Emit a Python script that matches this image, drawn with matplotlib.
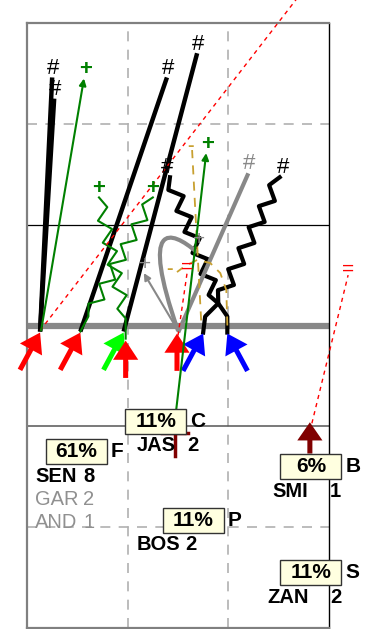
import numpy as np
import matplotlib
matplotlib.use("Agg")
import matplotlib.pyplot as plt
from matplotlib.patches import FancyArrow, Rectangle, PathPatch
from matplotlib.path import Path

plt.rcParams["font.family"] = ["Liberation Sans", "DejaVu Sans"]

# field: cells of 10 units, line of scrimmage at y = 0
grid_x = [10, 20]
grid_y_dashed = [20, -20]

# players on the line (arrow tip), lean: 1 = from lower left, -1 = from lower right, 0 = from below
player_x = [1.3, 5.3, 9.6, 9.8, 14.9, 17.5, 19.9]
player_y = [-0.7, -0.7, -0.7, -1.5, -0.8, -0.8, -0.8]
player_color = ["#ff0000", "#ff0000", "#00ff00", "#ff0000", "#ff0000", "#0000ff", "#0000ff"]
player_lean = [1, 1, 1, 0, 0, 1, -1]

# straight black routes ending in '#'
black_start_x = [1.3, 1.3, 5.3, 9.6]
black_end_x = [2.5, 2.7, 13.9, 16.9]
black_end_y = [24.6, 22.5, 24.6, 27.0]

# thin green routes with arrow heads ending in '+'
green_start = [(1.4, -0.5), (14.7, -9.4)]
green_end = [(5.66, 24.5), (17.8, 17.1)]

# wavy routes: (start, bend, end)
wavy_black = [[(19.9, -0.7), (19.9, 0.9), (19.0, 2.2), (14.2, 14.7)],
              [(17.5, -0.7), (17.7, 0.9), (19.0, 2.2), (25.1, 14.7)]]
wavy_green = [[(9.8, -1.3), (9.8, 0.7), (7.15, 12.7)],
              [(5.3, -0.6), (6.1, 0.9), (12.5, 12.7)]]

# grey routes
grey_thin = [(15.0, -0.5), (11.6, 5.2)]
grey_thick = [(15.1, -0.5), (21.9, 14.9)]
grey_loop = [(15.0, -0.5), (11.2, 10.4), (14.2, 9.6), (16.9, 7.25)]

# gold dashed coverage
gold_a = [(17.3, 0.5), (16.4, 17.4)]
gold_b = [(19.9, 0.0), (19.8, 3.5), (19.2, 5.2), (18.2, 6.2), (16.9, 6.5), (15.7, 5.9), (14.9, 5.3)]

# red dashed reads
red_dash = [[(1.3, -0.5), (27.1, 32.8)], [(15.0, -1.0), (15.9, 5.2)], [(28.3, -9.7), (31.9, 5.0)]]

# back-field marker and centre block
back_x, back_y = 28.1, -9.6
block_x, block_y = 14.7, -10.7

# percentage boxes
box_pct = ["61%", "11%", "11%", "6%", "11%"]
box_pos = ["F", "C", "P", "B", "S"]
box_x = [4.9, 12.8, 16.5, 28.2, 28.2]
box_y = [-12.5, -9.5, -19.3, -14.0, -24.5]
roster_names = [["SEN", "GAR", "AND"], ["JAS"], ["BOS"], ["SMI"], ["ZAN"]]
roster_counts = [[8, 2, 1], [2], [2], [1], [2]]
name_x = [0.8, 10.9, 10.9, 24.4, 23.9]
count_x = [5.6, 15.9, 15.7, 30.1, 30.1]


def zigzag(pts, step=1.1, amp=0.6):
    # straight lead-in through all but the last point, then zigzag to the end
    xs = [p[0] for p in pts[:-1]]
    ys = [p[1] for p in pts[:-1]]
    (x0, y0), (x1, y1) = pts[-2], pts[-1]
    L = np.hypot(x1 - x0, y1 - y0)
    n = max(int(L / step), 2)
    ux, uy = (x1 - x0) / L, (y1 - y0) / L
    px, py = -uy, ux
    for i in range(1, n):
        t = i / n
        s = amp if i % 2 else -amp
        xs.append(x0 + ux * L * t + px * s)
        ys.append(y0 + uy * L * t + py * s)
    xs.append(x1)
    ys.append(y1)
    return xs, ys


fig = plt.figure(figsize=(3.68, 6.29), dpi=100)
ax = fig.add_axes([27 / 368, 1 / 629, 302 / 368, 605 / 629])
ax.set_xlim(0, 30)
ax.set_ylim(-30, 30)
ax.set_xticks([])
ax.set_yticks([])
for side in ["left", "top", "bottom"]:
    ax.spines[side].set_color("#808080")
    ax.spines[side].set_linewidth(1.6)
ax.spines["right"].set_color("black")
ax.spines["right"].set_linewidth(1)

for gx in grid_x:
    ax.axvline(gx, color="#b0b0b0", lw=1.2, dashes=(6, 5), zorder=1)
for gy in grid_y_dashed:
    ax.axhline(gy, color="#b0b0b0", lw=1.2, dashes=(6, 5), zorder=1)
ax.axhline(10, color="black", lw=0.9, zorder=1)
ax.axhline(-10, color="#555555", lw=1.1, zorder=1)
ax.axhline(0, color="#888888", lw=4.5, zorder=2)

# black straight routes
for x0, x1, y1 in zip(black_start_x, black_end_x, black_end_y):
    ax.plot([x0, x1], [-0.6, y1], color="black", lw=3.2, solid_capstyle="butt", zorder=3)
    ax.text(x1 + 0.1, y1 + 0.9, "#", color="black", fontsize=16, ha="center", va="center", zorder=6)

# green arrows
for (x0, y0), (x1, y1) in zip(green_start, green_end):
    ax.annotate("", xy=(x1, y1), xytext=(x0, y0),
                arrowprops=dict(arrowstyle="-|>", color="#008000", lw=1.5,
                                mutation_scale=10, shrinkA=0, shrinkB=0), zorder=5)
    ax.text(x1 + 0.15, y1 + 0.85, "+", color="#008000", fontsize=16, fontweight="bold",
            ha="center", va="center", zorder=6)

# wavy routes
for pts in wavy_black:
    xs, ys = zigzag(pts)
    ax.plot(xs, ys, color="black", lw=3.0, zorder=3)
    ax.text(xs[-1] + np.sign(xs[-1] - xs[0]) * 0.3, ys[-1] + 1.0, "#", color="black",
            fontsize=16, ha="center", va="center", zorder=6)
for pts in wavy_green:
    xs, ys = zigzag(pts)
    ax.plot(xs, ys, color="#008000", lw=1.5, zorder=3)
    ax.text(xs[-1], ys[-1] + 0.9, "+", color="#008000", fontsize=16, fontweight="bold",
            ha="center", va="center", zorder=6)

# grey routes
ax.annotate("", xy=grey_thin[1], xytext=grey_thin[0],
            arrowprops=dict(arrowstyle="-|>", color="#888888", lw=1.5,
                            mutation_scale=10, shrinkA=0, shrinkB=0), zorder=3)
ax.text(grey_thin[1][0] + 0.1, grey_thin[1][1] + 0.8, "+", color="#888888", fontsize=15,
        ha="center", va="center", zorder=6)
ax.plot([p[0] for p in grey_thick], [p[1] for p in grey_thick], color="#888888", lw=3.0, zorder=3)
ax.text(grey_thick[1][0] + 0.2, grey_thick[1][1] + 1.2, "#", color="#888888", fontsize=16,
        ha="center", va="center", zorder=6)
loop = Path(grey_loop, [Path.MOVETO, Path.CURVE4, Path.CURVE4, Path.CURVE4])
ax.add_patch(PathPatch(loop, fc="none", ec="#888888", lw=3.0, zorder=3))
ax.text(grey_loop[-1][0] + 0.2, grey_loop[-1][1] + 1.3, "+", color="#888888", fontsize=15,
        ha="center", va="center", zorder=6)

# gold coverage
for pts in [gold_a, gold_b]:
    ax.plot([p[0] for p in pts], [p[1] for p in pts], color="#c8a030", lw=1.3,
            dashes=(5, 4), zorder=3)
ax.text(gold_a[1][0] - 0.2, gold_a[1][1] + 0.4, "-", color="#c8a030", fontsize=14,
        fontweight="bold", ha="center", va="center", zorder=6)
ax.text(gold_b[-1][0] - 0.7, gold_b[-1][1] + 0.3, "-", color="#c8a030", fontsize=14,
        fontweight="bold", ha="center", va="center", zorder=6)

# red dashed reads
for k, pts in enumerate(red_dash):
    ax.plot([p[0] for p in pts], [p[1] for p in pts], color="#ff0000", lw=1.0,
            dashes=(3, 3), zorder=4, clip_on=False)
    if k > 0:
        ax.text(pts[1][0], pts[1][1] + 0.6, "=", color="#ff0000", fontsize=15,
                ha="center", va="center", zorder=6, clip_on=False)

# players
for x, y, c, lean in zip(player_x, player_y, player_color, player_lean):
    dx, dy = lean * 2.0, 3.7
    ax.add_patch(FancyArrow(x - dx, y - dy, dx, dy, width=0.5, head_width=2.5,
                            head_length=1.9, length_includes_head=True,
                            color=c, lw=0, zorder=4, clip_on=False))

# back-field marker and centre block
ax.add_patch(FancyArrow(back_x, back_y - 3.1, 0, 3.1, width=0.5, head_width=2.5,
                        head_length=1.8, length_includes_head=True,
                        color="#800000", lw=0, zorder=4, clip_on=False))
ax.plot([block_x - 1.25, block_x + 1.25], [block_y, block_y], color="#800000", lw=2.5, zorder=4)
ax.plot([block_x, block_x], [block_y, block_y - 2.2], color="#800000", lw=2.5, zorder=4)

# percentage boxes and rosters
for pct, pos, bx, by, names, counts, nx, cx in zip(box_pct, box_pos, box_x, box_y,
                                                   roster_names, roster_counts, name_x, count_x):
    ax.add_patch(Rectangle((bx - 3.03, by - 1.24), 6.06, 2.48, fc="#ffffe0", ec="#333333",
                           lw=1, zorder=7, clip_on=False))
    ax.text(bx, by, pct, fontsize=15, fontweight="bold", ha="center", va="center",
            zorder=8, clip_on=False)
    ax.text(bx + 3.45, by, pos, fontsize=15, fontweight="bold", ha="left", va="center",
            zorder=8, clip_on=False)
    for r, (nm, ct) in enumerate(zip(names, counts)):
        yy = by - 2.43 - r * 2.28
        col = "black" if r == 0 else "#909090"
        wt = "bold" if r == 0 else "normal"
        ax.text(nx, yy, nm, fontsize=14.5, fontweight=wt, color=col, ha="left",
                va="center", zorder=8, clip_on=False)
        ax.text(cx, yy, str(ct), fontsize=14.5, fontweight=wt, color=col, ha="left",
                va="center", zorder=8, clip_on=False)

fig.savefig("out.png", dpi=100)
plt.close(fig)
